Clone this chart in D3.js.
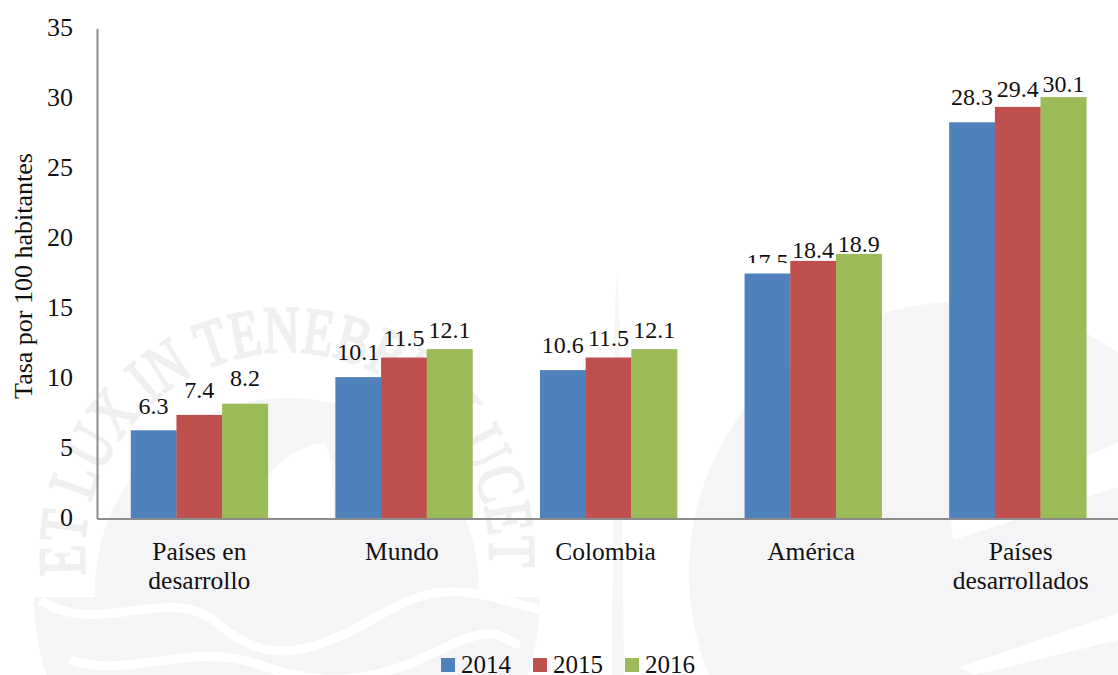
<!DOCTYPE html>
<html><head><meta charset="utf-8">
<script src="https://cdnjs.cloudflare.com/ajax/libs/d3/7.8.5/d3.min.js"></script>
<style>html,body{margin:0;background:#fff}svg{display:block}text{font-family:"Liberation Serif",serif}</style>
</head><body><svg id="c" width="1118" height="675"></svg>
<script>
const categories=[["Países en","desarrollo"],["Mundo"],["Colombia"],["América"],["Países","desarrollados"]];
const years=["2014","2015","2016"];
const values2014=[6.3,10.1,10.6,17.5,28.3];
const values2015=[7.4,11.5,11.5,18.4,29.4];
const values2016=[8.2,12.1,12.1,18.9,30.1];
const colors=["#4f81bd","#c0504d","#9bbb59"];
const yTicks=[0,5,10,15,20,25,30,35];
const seriesList=[values2014,values2015,values2016];
const labelLift=[[16,17,18],[17,12,11],[17,12,11],[4,3,2],[17,10,5]];
const categoryNudge=[0,-2,-3,-2,3];
const ink="#111";
const svg=d3.select("#c");

// faint watermark (university seal behind the chart)
const wm=svg.append("g");
const wmGrey="#f5f5f7";
wm.append("path").attr("d","M 612 675 L 614 330 L 617 270 L 620 330 L 624 675 Z").attr("fill","#f6f6f6");
wm.append("circle").attr("cx",960).attr("cy",573).attr("r",271).attr("fill",wmGrey);
wm.append("path").attr("d","M 951 520 L 1118 442 L 1118 487 L 953 540 Z").attr("fill","#fff");
wm.append("path").attr("d","M 960 667 L 1118 613 L 1118 640 L 975 675 Z").attr("fill","#fff");
wm.append("path").attr("d","M 34 597 A 253 253 0 0 0 540 597 Z").attr("fill",wmGrey);
wm.append("circle").attr("cx",287).attr("cy",590).attr("r",192).attr("fill",wmGrey);
wm.append("path").attr("d","M 268 517 L 268 475 Q 295 445 325 443 L 332 462 L 334 517 Z").attr("fill","#fff");
wm.append("path").attr("d","M 40 600 C 100 640 170 580 220 625 S 320 650 380 615 S 470 590 540 610").attr("fill","none").attr("stroke","#fff").attr("stroke-width",9);
wm.append("path").attr("d","M 70 660 C 130 680 190 640 260 665 S 380 680 440 650 S 500 640 520 645").attr("fill","none").attr("stroke","#fff").attr("stroke-width",9);
wm.append("path").attr("id","wmArc").attr("d","M 85 575 A 203 203 0 1 1 489 575").attr("fill","none");
wm.append("text").attr("fill","#f0f0f0").attr("stroke","#f0f0f0").attr("stroke-width",2.5).style("font-size","66px")
  .append("textPath").attr("href","#wmArc").attr("textLength",670).attr("lengthAdjust","spacingAndGlyphs").text("ET LUX IN TENEBRIS LUCET");

const x=d3.scaleBand().domain(d3.range(categories.length)).range([97,1120]).paddingInner(0.33).paddingOuter(0.165);
const xi=d3.scaleBand().domain(d3.range(years.length)).range([0,x.bandwidth()]);
const y=d3.scaleLinear().domain([0,35]).range([518.5,28.5]);

svg.append("defs").append("clipPath").attr("id","lblClip").append("rect").attr("x",0).attr("y",0).attr("width",1118).attr("height",263);

seriesList.forEach((vals,s)=>{
  svg.append("g").selectAll("rect").data(vals).join("rect")
    .attr("x",(d,i)=>x(i)+xi(s)).attr("width",xi.bandwidth()+0.3)
    .attr("y",d=>y(d)).attr("height",d=>y(0)-y(d)).attr("fill",colors[s]);
  svg.append("g").selectAll("text").data(vals).join("text")
    .attr("x",(d,i)=>x(i)+xi(s)+xi.bandwidth()/2).attr("y",(d,i)=>y(d)-labelLift[i][s])
    .attr("text-anchor","middle").attr("fill",ink).style("font-size","24px")
    .attr("clip-path",(d,i)=>(s===0&&i===3)?"url(#lblClip)":null)
    .text(d=>d.toFixed(1));
});

const axY=svg.append("g").attr("transform","translate(97,0)").call(d3.axisLeft(y).tickValues(yTicks).tickSize(0).tickPadding(24));
axY.select(".domain").attr("stroke","#8c8c8c").attr("stroke-width",2);
axY.selectAll("text").attr("dy","0.25em").style("font-size","26px").style("font-family","Liberation Serif").attr("fill",ink);

const axX=svg.append("g").attr("transform","translate(0,518.5)").call(d3.axisBottom(x).tickSize(0).tickFormat(""));
axX.select(".domain").attr("stroke","#8c8c8c").attr("stroke-width",2);
axX.selectAll(".tick").each(function(d){
  const t=d3.select(this).select("text").attr("y",0).attr("dy",null).text(null);
  categories[d].forEach((line,k)=>t.append("tspan").attr("x",categoryNudge[d]).attr("y",41+k*29.5).text(line));
  t.style("font-size","25.5px").style("font-family","Liberation Serif").attr("fill",ink);
});

svg.append("text").attr("transform","translate(32,276) rotate(-90)").attr("text-anchor","middle").attr("fill",ink).style("font-size","26px").text("Tasa por 100 habitantes");

const legendX=d3.scaleOrdinal().domain(years).range([441,533,625]);
const leg=svg.append("g").selectAll("g").data(years).join("g").attr("transform",d=>`translate(${legendX(d)},0)`);
leg.append("rect").attr("y",658).attr("width",14).attr("height",14).attr("fill",(d,i)=>colors[i]);
leg.append("text").attr("x",20).attr("y",673).attr("fill",ink).style("font-size","25px").text(d=>d);
</script></body></html>
